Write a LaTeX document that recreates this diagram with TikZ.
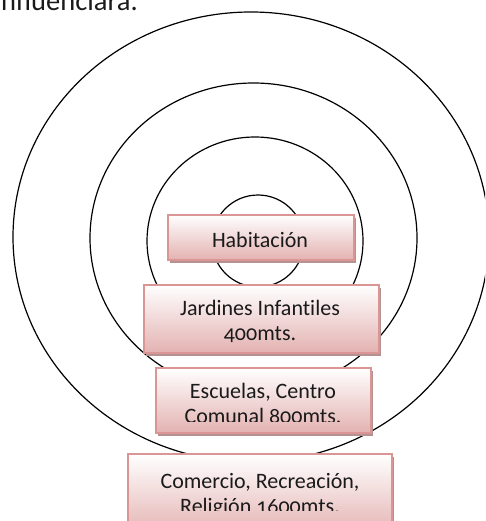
\documentclass[tikz,border=0pt]{standalone}
\usepackage{fontspec}
\setmainfont[Numbers=OldStyle,Ligatures=NoCommon]{Carlito}
\definecolor{boxborder}{HTML}{D99694}
\definecolor{boxpink}{HTML}{E3B2B1}
\definecolor{shadowc}{HTML}{B39290}
\definecolor{inkc}{HTML}{1A1A1A}
\begin{document}
\begin{tikzpicture}[x=1pt,y=-1pt,
  ring/.style={draw=black,line width=1.2pt},
  boxshadow/.style={fill=shadowc,draw=none},
  boxbody/.style={draw=boxborder,line width=1.6pt,top color=white,bottom color=boxpink,inner sep=0pt,anchor=north west},
  lbl/.style={font=\fontsize{22}{25}\selectfont,text=inkc,align=center,inner sep=0pt,anchor=base}]
\useasboundingbox (0,0) rectangle (485,521);
\clip (0,0) rectangle (485,521);
\node[anchor=base east,inner sep=0pt,text=inkc,font=\fontsize{28.5}{30}\selectfont] (title) at (138,11) {influenciara.};
% rings
\draw[ring] (251,237) ellipse [x radius=238, y radius=225];
\draw[ring] (253.5,238) ellipse [x radius=163.5, y radius=155];
\draw[ring] (255,241) ellipse [x radius=108, y radius=104];
\draw[ring] (258,241) circle [radius=46];
% Habitacion
\fill[boxshadow] (170,218) rectangle (356,263);
\node[boxbody,minimum width=186pt,minimum height=45pt] (hab) at (167,214) {};
\node[lbl] (habt) at (260,247) {Habitación};
% Jardines
\fill[boxshadow] (146,288) rectangle (381,356);
\node[boxbody,minimum width=235pt,minimum height=68pt] (jar) at (143,284) {};
\node[lbl] (jart) at (260,340) {Jardines Infantiles\\400mts.};
% Escuelas
\fill[boxshadow] (158,371) rectangle (373,436);
\node[boxbody,minimum width=215pt,minimum height=65pt] (esc) at (155,367) {};
\begin{scope}
\clip (156,368) rectangle (369,421);
\node[lbl] (esct) at (263,423) {Escuelas, Centro\\Comunal 800mts.};
\end{scope}
% Comercio
\fill[boxshadow] (130,457) rectangle (394,540);
\node[boxbody,minimum width=264pt,minimum height=82pt] (com) at (127,453) {};
\begin{scope}
\clip (128,454) rectangle (390,510);
\node[lbl] (comt) at (260,513) {Comercio, Recreación,\\Religión 1600mts.};
\end{scope}
\end{tikzpicture}
\end{document}
